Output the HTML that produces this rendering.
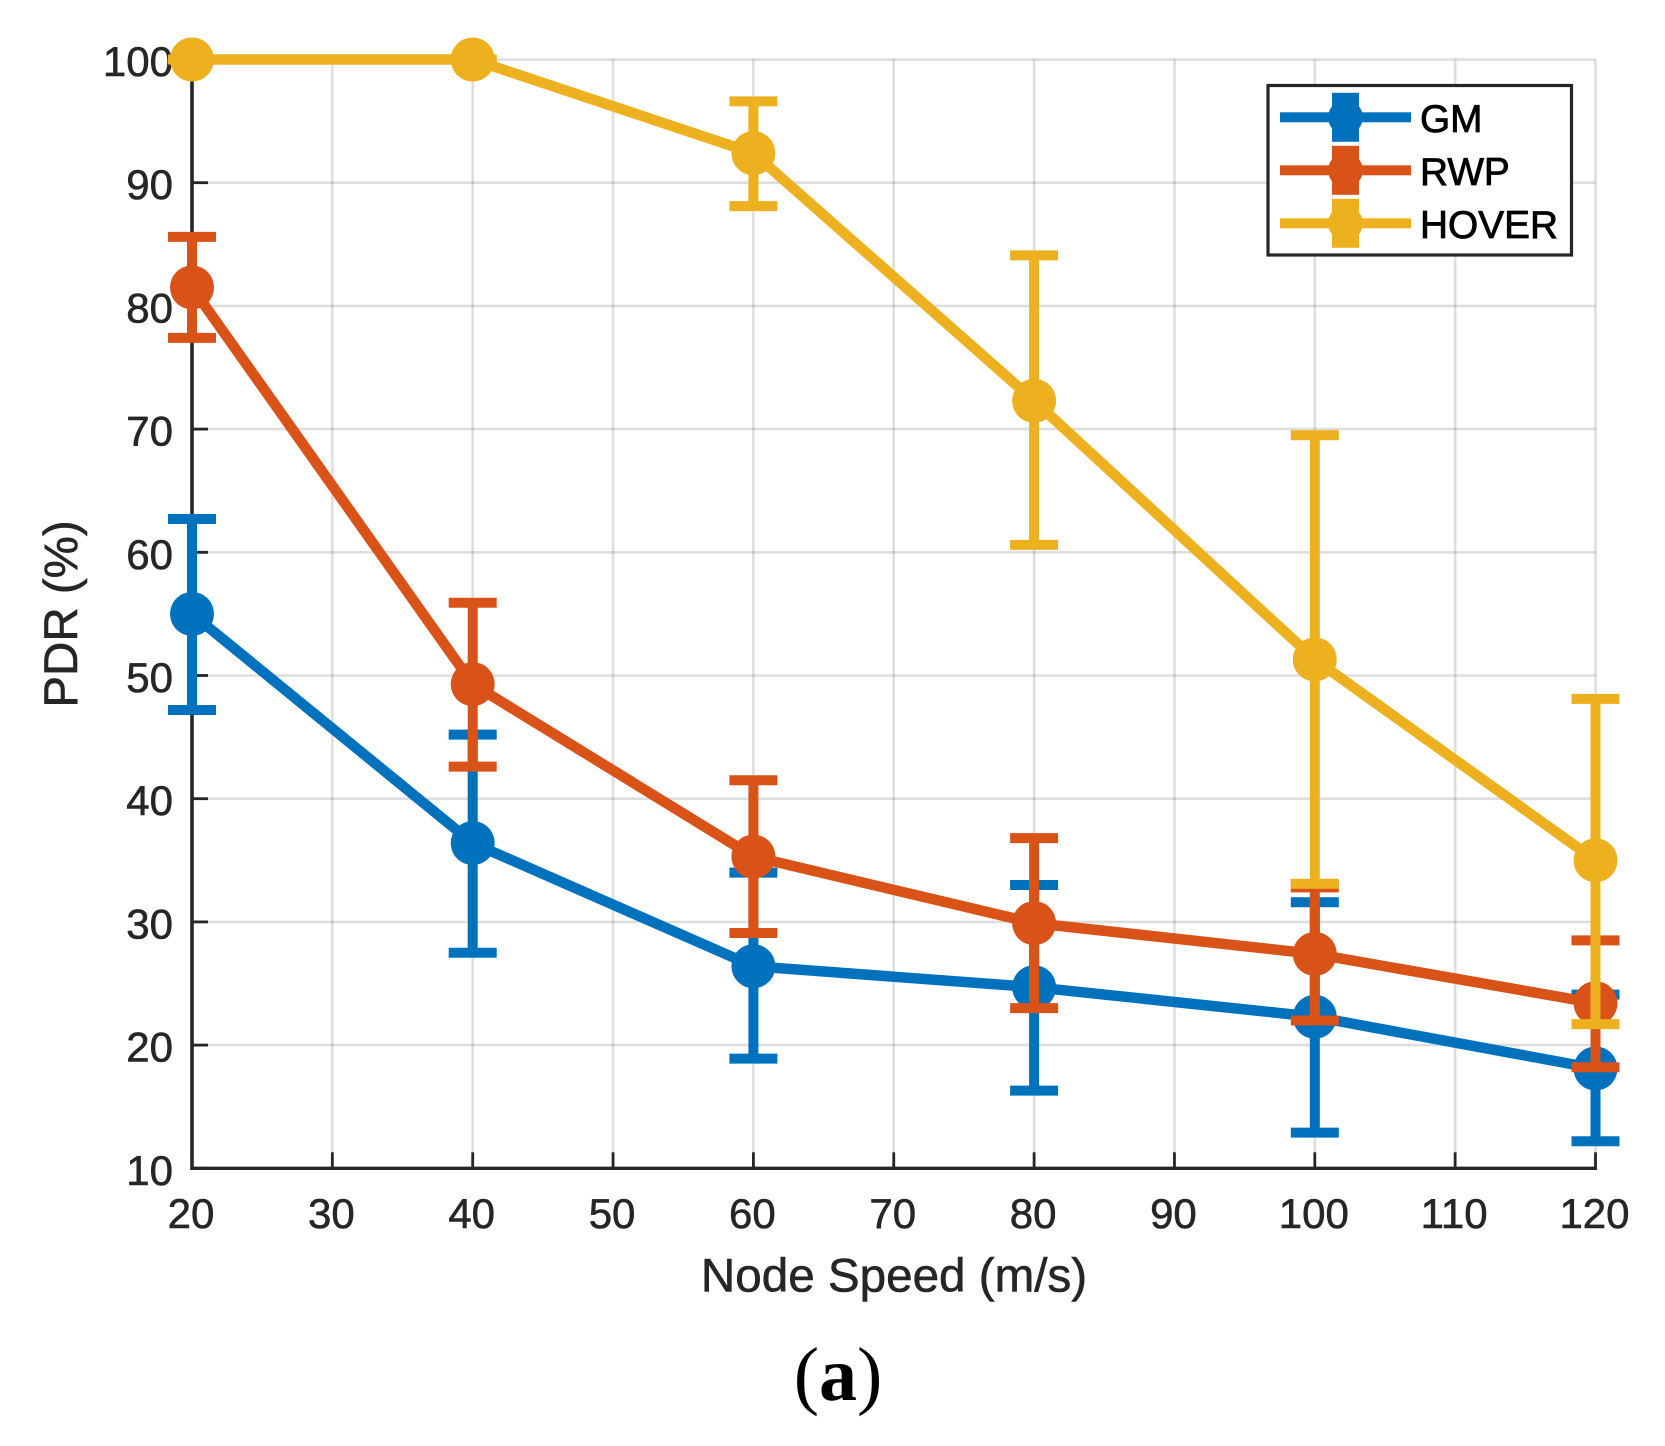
<!DOCTYPE html>
<html lang="en">
<head>
<meta charset="utf-8">
<title>PDR vs Node Speed</title>
<style>
  html, body { margin: 0; padding: 0; background: #fff; }
  body { width: 1665px; height: 1446px; overflow: hidden; }
  svg { display: block; }
  text { font-family: "Liberation Sans", sans-serif; }
</style>
</head>
<body>
<svg id="chart" xmlns="http://www.w3.org/2000/svg" width="1665" height="1446" viewBox="0 0 1665 1446"></svg>
<script>
var speeds = [20, 40, 60, 80, 100, 120];
var xTicks = [20, 30, 40, 50, 60, 70, 80, 90, 100, 110, 120];
var yTicks = [10, 20, 30, 40, 50, 60, 70, 80, 90, 100];

var gmMean = [55, 36.4, 26.4, 24.7, 22.3, 18.1];
var gmUpper = [62.7, 45.2, 34, 33, 31.6, 24.1];
var gmLower = [47.2, 27.5, 18.9, 16.3, 12.9, 12.2];

var rwpMean = [81.5, 49.3, 35.3, 29.9, 27.4, 23.4];
var rwpUpper = [85.6, 55.9, 41.5, 36.8, 32.8, 28.5];
var rwpLower = [77.4, 42.6, 29.1, 23, 22, 18.2];

var hoverMean = [100, 100, 92.4, 72.3, 51.3, 35];
var hoverUpper = [100, 100, 96.6, 84.1, 69.5, 48.1];
var hoverLower = [100, 100, 88.1, 60.6, 33.1, 21.7];

var seriesNames = ['GM', 'RWP', 'HOVER'];
var seriesColors = ['#0072bd', '#d95319', '#edb120'];

var svg = document.getElementById('chart');
var NS = 'http://www.w3.org/2000/svg';
var AXIS = '#262626';

function xScale(v) { return 192 + (v - 20) * 14.035; }
function yScale(v) { return 1168.3 - (v - 10) * 12.32; }

function shape(parent, tag, attrs) {
  var el = document.createElementNS(NS, tag);
  for (var k in attrs) { el.setAttribute(k, attrs[k]); }
  parent.appendChild(el);
  return el;
}
function group(parent) {
  var g = document.createElementNS(NS, 'g');
  parent.appendChild(g);
  return g;
}

/* Grid */
var gridG = group(svg);


xTicks.forEach(function (t) {
  var el = shape(gridG, 'line', { x1: xScale(t), x2: xScale(t), y1: yScale(100), y2: yScale(10), stroke: '#000', 'stroke-opacity': 0.13, 'stroke-width': 2.6 });
  
  
});
yTicks.forEach(function (t) {
  var el = shape(gridG, 'line', { x1: xScale(20), x2: xScale(120), y1: yScale(t), y2: yScale(t), stroke: '#000', 'stroke-opacity': 0.13, 'stroke-width': 2.6 });
  
  
});

/* Axes */
var axisG = group(svg);


var xAxisLine = shape(axisG, 'line', { x1: xScale(20) - 1.7, x2: xScale(120) + 1.5, y1: yScale(10), y2: yScale(10), stroke: AXIS, 'stroke-width': 3.4 });


var yAxisLine = shape(axisG, 'line', { x1: xScale(20), x2: xScale(20), y1: yScale(100), y2: yScale(10) + 1.6, stroke: AXIS, 'stroke-width': 3.6 });



xTicks.forEach(function (t) {
  var tick = shape(axisG, 'line', { x1: xScale(t), x2: xScale(t), y1: yScale(10), y2: yScale(10) - 16, stroke: AXIS, 'stroke-width': 2.8 });
  
  
  var label = shape(axisG, 'text', { x: xScale(t) - 1, y: 1228, 'text-anchor': 'middle', 'font-size': 42, fill: AXIS, stroke: AXIS, 'stroke-width': 0.6 });
  label.textContent = String(t);
  
  
});
yTicks.forEach(function (t) {
  var tick = shape(axisG, 'line', { x1: xScale(20), x2: xScale(20) + 16, y1: yScale(t), y2: yScale(t), stroke: AXIS, 'stroke-width': 2.8 });
  
  
  var label = shape(axisG, 'text', { x: 173, y: yScale(t) + 16.5, 'text-anchor': 'end', 'font-size': 42, fill: AXIS, stroke: AXIS, 'stroke-width': 0.6 });
  label.textContent = String(t);
  
  
});

var xTitle = shape(svg, 'text', { x: 894, y: 1291.5, 'text-anchor': 'middle', 'font-size': 47.6, fill: AXIS, stroke: AXIS, 'stroke-width': 0.6 });
xTitle.textContent = 'Node Speed (m/s)';



var yTitle = shape(svg, 'text', { x: 0, y: 0, 'text-anchor': 'middle', 'font-size': 47.5, fill: AXIS, stroke: AXIS, 'stroke-width': 0.6, transform: 'translate(77 614) rotate(-90)' });
yTitle.textContent = 'PDR (%)';



/* Series */
function drawSeries(idx, mean, upper, lower) {
  var color = seriesColors[idx];
  var key = seriesNames[idx].toLowerCase();
  var g = group(svg);
  
  

  var pts = speeds.map(function (s, i) { return xScale(s) + ',' + yScale(mean[i]); }).join(' ');
  var line = shape(g, 'polyline', { points: pts, fill: 'none', stroke: color, 'stroke-width': 10.5, 'stroke-linejoin': 'round' });
  
  

  speeds.forEach(function (s, i) {
    var x = xScale(s);
    var stem = shape(g, 'line', { x1: x, x2: x, y1: yScale(upper[i]), y2: yScale(lower[i]), stroke: color, 'stroke-width': 10 });
    
    
    var capTop = shape(g, 'line', { x1: x - 24, x2: x + 24, y1: yScale(upper[i]), y2: yScale(upper[i]), stroke: color, 'stroke-width': 10 });
    
    
    var capBottom = shape(g, 'line', { x1: x - 24, x2: x + 24, y1: yScale(lower[i]), y2: yScale(lower[i]), stroke: color, 'stroke-width': 10 });
    
    
  });
  speeds.forEach(function (s, i) {
    var dot = shape(g, 'circle', { cx: xScale(s), cy: yScale(mean[i]), r: 22, fill: color });
    
    
  });
}
drawSeries(0, gmMean, gmUpper, gmLower);
drawSeries(1, rwpMean, rwpUpper, rwpLower);
drawSeries(2, hoverMean, hoverUpper, hoverLower);

/* Legend */
var legend = group(svg);


var legendBox = shape(legend, 'rect', { x: 1268, y: 85.5, width: 303.5, height: 169.5, fill: '#fff', stroke: AXIS, 'stroke-width': 3.2 });


seriesNames.forEach(function (name, i) {
  var rowY = 117.3 + i * 53;
  var row = group(legend);
  
  
  var sampleLine = shape(row, 'rect', { x: 1280, y: rowY - 5, width: 131, height: 10, fill: seriesColors[i] });
  
  
  var sampleBar = shape(row, 'rect', { x: 1332, y: rowY - 24.5, width: 27, height: 49, fill: seriesColors[i] });
  
  
  var sampleDot = shape(row, 'circle', { cx: 1345.5, cy: rowY, r: 17.4, fill: seriesColors[i] });
  
  
  var label = shape(row, 'text', { x: 1420, y: rowY + 14.5, 'font-size': 38.8, fill: '#000', stroke: '#000', 'stroke-width': 0.8 });
  label.textContent = name;
  
  
});

/* Panel caption */
var caption = shape(svg, 'text', { x: 838, y: 1400, 'text-anchor': 'middle', 'font-size': 76, fill: '#000' });
caption.style.fontFamily = '"Liberation Serif", serif';


var capOpen = document.createElementNS(NS, 'tspan');
capOpen.setAttribute('font-weight', '400');
capOpen.textContent = '(';
caption.appendChild(capOpen);
var capLetter = document.createElementNS(NS, 'tspan');
capLetter.setAttribute('font-weight', 'bold');
capLetter.textContent = 'a';
caption.appendChild(capLetter);
var capClose = document.createElementNS(NS, 'tspan');
capClose.setAttribute('font-weight', '400');
capClose.textContent = ')';
caption.appendChild(capClose);
</script>
</body>
</html>
